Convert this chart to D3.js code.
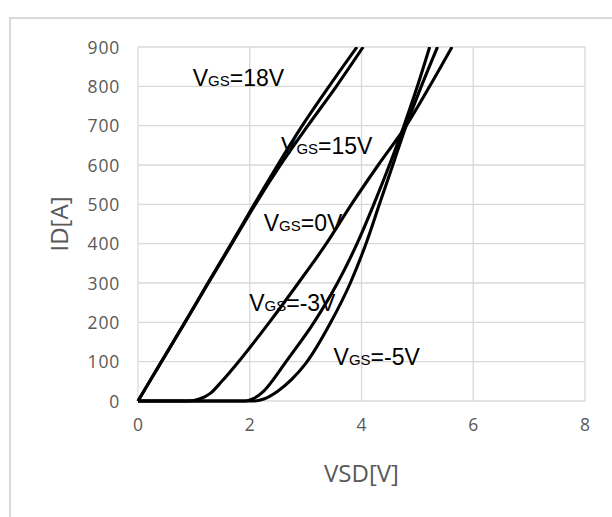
<!DOCTYPE html>
<html>
<head>
<meta charset="utf-8">
<script src="https://cdn.jsdelivr.net/npm/d3@7/dist/d3.min.js"></script>
<style>
  html, body { margin: 0; padding: 0; background: #ffffff; }
  svg { display: block; }
</style>
</head>
<body>
<svg id="chart" width="612" height="517"></svg>
<script>
// ---- data ----
const xTicks = [0, 2, 4, 6, 8];
const yTicks = [0, 100, 200, 300, 400, 500, 600, 700, 800, 900];

const vgs18_x = [0, 0.42, 0.84, 1.25, 1.67, 2.08, 2.5, 2.94, 3.42, 3.92];
const vgs18_y = [0, 100, 200, 300, 400, 500, 600, 700, 800, 900];

const vgs15_x = [0, 0.42, 0.84, 1.26, 1.68, 2.1, 2.55, 3.04, 3.55, 4.03];
const vgs15_y = [0, 100, 200, 300, 400, 500, 600, 700, 800, 900];

const vgs0_x = [0, 0.9, 1.1, 1.3, 1.5, 1.8, 2.35, 2.87, 3.37, 3.82, 4.3, 4.8, 5.22, 5.62];
const vgs0_y = [0, 0, 5, 20, 50, 100, 200, 300, 400, 500, 600, 700, 800, 900];

const vgsm3_x = [0, 1.92, 2.05, 2.25, 2.45, 2.65, 3.15, 3.57, 3.92, 4.22, 4.5, 4.76, 5.0, 5.22];
const vgsm3_y = [0, 0, 5, 25, 60, 100, 200, 300, 400, 500, 600, 700, 800, 900];

const vgsm5_x = [0, 2.08, 2.25, 2.5, 2.75, 3.0, 3.45, 3.8, 4.08, 4.32, 4.56, 4.8, 5.07, 5.36];
const vgsm5_y = [0, 0, 5, 25, 55, 95, 200, 300, 400, 500, 600, 700, 800, 900];

const seriesNames = ["18V", "15V", "0V", "-3V", "-5V"];
const labelX = [0.98, 2.56, 2.25, 1.99, 3.5];
const labelY = [800, 627, 432, 229, 92];

const xTitle = "VSD[V]";
const yTitle = "ID[A]";

// ---- layout ----
const svg = d3.select("#chart");
const plot = { left: 138, right: 585, top: 47, bottom: 401 };

const x = d3.scaleLinear().domain([0, 8]).range([plot.left, plot.right]);
const y = d3.scaleLinear().domain([0, 900]).range([plot.bottom, plot.top]);

// outer chart border
svg.append("rect")
  .attr("x", 10).attr("y", 18)
  .attr("width", 640).attr("height", 540)
  .attr("fill", "#ffffff")
  .attr("stroke", "#d9d9d9").attr("stroke-width", 2);

// gridlines
const grid = svg.append("g");
grid.selectAll("line.h").data(yTicks).join("line")
  .attr("x1", plot.left).attr("x2", plot.right)
  .attr("y1", d => y(d)).attr("y2", d => y(d))
  .attr("stroke", "#d9d9d9").attr("stroke-width", 1.3);
grid.selectAll("line.v").data(xTicks).join("line")
  .attr("y1", plot.top).attr("y2", plot.bottom)
  .attr("x1", d => x(d)).attr("x2", d => x(d))
  .attr("stroke", "#d9d9d9").attr("stroke-width", 1.3);

// axes (labels only)
const tickFont = "'Open Sans', sans-serif";
const yAxis = svg.append("g").attr("transform", `translate(${plot.left - 18},0)`)
  .call(d3.axisLeft(y).tickValues(yTicks).tickSize(0).tickPadding(0));
const xAxis = svg.append("g").attr("transform", `translate(0,${plot.bottom + 18})`)
  .call(d3.axisBottom(x).tickValues(xTicks).tickSize(0).tickPadding(0));
[yAxis, xAxis].forEach(g => {
  g.select(".domain").remove();
  g.selectAll("text")
    .attr("fill", "#595959")
    .style("font-family", tickFont)
    .style("font-size", "17.5px")
    .style("letter-spacing", "0.8px");
});
yAxis.selectAll("text").attr("dy", "0.36em");
xAxis.selectAll("text").attr("dy", "0.71em");

// axis titles
svg.append("text")
  .attr("x", (plot.left + plot.right) / 2).attr("y", 482)
  .attr("text-anchor", "middle")
  .attr("fill", "#595959")
  .style("font-family", tickFont).style("font-size", "24px")
  .text(xTitle);
svg.append("text")
  .attr("transform", `translate(68,${(plot.top + plot.bottom) / 2}) rotate(-90)`)
  .attr("text-anchor", "middle")
  .attr("fill", "#595959")
  .style("font-family", tickFont).style("font-size", "24px")
  .text(yTitle);

// curves
const seriesX = [vgs18_x, vgs15_x, vgs0_x, vgsm3_x, vgsm5_x];
const seriesY = [vgs18_y, vgs15_y, vgs0_y, vgsm3_y, vgsm5_y];
const series = seriesX.map((xs, i) => xs.map((v, j) => [v, seriesY[i][j]]));

svg.append("clipPath").attr("id", "clip")
  .append("rect").attr("x", plot.left - 3).attr("y", plot.top)
  .attr("width", plot.right - plot.left + 6).attr("height", plot.bottom - plot.top + 3);

const line = d3.line().x(d => x(d[0])).y(d => y(d[1])).curve(d3.curveMonotoneX);
svg.append("g").attr("clip-path", "url(#clip)")
  .selectAll("path").data(series).join("path")
  .attr("d", line)
  .attr("fill", "none")
  .attr("stroke", "#000000")
  .attr("stroke-width", 3.1)
  .attr("stroke-linejoin", "round");

// curve labels
const labels = svg.append("g")
  .style("font-family", "'Liberation Sans', Arial, sans-serif")
  .attr("fill", "#000000");
seriesNames.forEach((name, i) => {
  const t = labels.append("text")
    .attr("x", x(labelX[i])).attr("y", y(labelY[i]))
    .style("font-size", "23px");
  t.append("tspan").text("V");
  t.append("tspan").style("font-size", "15px").text("GS");
  t.append("tspan").text("=" + name);
});
</script>
</body>
</html>
